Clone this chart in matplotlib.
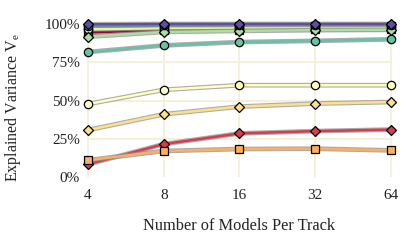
import matplotlib
matplotlib.use("Agg")
import matplotlib.pyplot as plt
import matplotlib.patheffects as pe
from matplotlib.ticker import FixedLocator, FixedFormatter, NullLocator

# -----------------------------
# DATA
# -----------------------------
models_per_track = [4, 8, 16, 32, 64]
x_labels = ["4", "8", "16", "32", "64"]
y_ticks = [0, 25, 50, 75, 100]
y_labels = ["0%", "25%", "50%", "75%", "100%"]

series_colors = ["#9e0142", "#d53e4f", "#f46d43", "#fdae61", "#fee08b", "#ffffbf",
                 "#e6f598", "#abdda4", "#66c2a5", "#3288bd", "#5e4fa2"]
series_markers = ["s", "D", "s", "s", "D", "o", "o", "D", "o", "o", "D"]

v_9e0142 = [94.5, 96.0, 96.3, 96.5, 96.5]
v_d53e4f = [8.3, 21.5, 28.5, 30.0, 31.0]
v_f46d43 = [97.5, 98.3, 98.6, 98.8, 98.8]
v_fdae61 = [11.0, 17.0, 18.3, 18.5, 17.4]
v_fee08b = [30.7, 41.0, 46.0, 48.0, 49.0]
v_ffffbf = [47.7, 57.0, 60.0, 60.0, 60.0]
v_e6f598 = [96.5, 97.3, 97.6, 97.8, 97.8]
v_abdda4 = [91.7, 94.8, 95.5, 96.0, 96.2]
v_66c2a5 = [81.7, 86.0, 88.2, 89.0, 90.0]
v_3288bd = [99.0, 99.3, 99.4, 99.5, 99.5]
v_5e4fa2 = [99.8, 100.0, 100.0, 100.0, 100.0]

series_values = [v_9e0142, v_d53e4f, v_f46d43, v_fdae61, v_fee08b, v_ffffbf,
                 v_e6f598, v_abdda4, v_66c2a5, v_3288bd, v_5e4fa2]

# -----------------------------
# PLOT
# -----------------------------
plt.rcParams["font.family"] = ["Liberation Serif", "DejaVu Serif"]
plt.rcParams["mathtext.fontset"] = "stix"

fig = plt.figure(figsize=(4.15, 2.48), dpi=100)
ax = fig.add_axes([0.1755, 0.2554, 0.803, 0.6786])

ax.set_xscale("log", base=2)
ax.set_xlim(2 ** 1.8, 2 ** 6.2)
ax.set_ylim(-5, 105)

grid_color = "#f4eed6"
ax.vlines(models_per_track, 0, 100, color=grid_color, lw=1.2, zorder=0)
ax.hlines([25, 50, 75], models_per_track[0], models_per_track[-1],
          color=grid_color, lw=1.2, zorder=0)

# lines with a grey outline, then markers on top without it
shadow = [pe.Stroke(linewidth=3.4, foreground="#909090", alpha=0.75), pe.Normal()]
for vals, col in zip(series_values, series_colors):
    ax.plot(models_per_track, vals, color=col, lw=1.8, path_effects=shadow, zorder=2)
for vals, col, mk in zip(series_values, series_colors, series_markers):
    ms = 5.2 if mk == "D" else 6
    ax.plot(models_per_track, vals, ls="none", marker=mk, ms=ms,
            mfc=col, mec="black", mew=0.9, zorder=3)

ax.xaxis.set_major_locator(FixedLocator(models_per_track))
ax.xaxis.set_major_formatter(FixedFormatter(x_labels))
ax.xaxis.set_minor_locator(NullLocator())
ax.set_yticks(y_ticks)
ax.set_yticklabels(y_labels)

for s in ax.spines.values():
    s.set_visible(False)
ax.tick_params(length=0, labelsize=11, colors="#222222")
ax.tick_params(axis="y", pad=-5)
ax.tick_params(axis="x", pad=3)

ax.set_xlabel("Number of Models Per Track", fontsize=11.8, labelpad=12, color="#222222")
ax.set_ylabel(r"Explained Variance V$_\mathregular{e}$", fontsize=11.5, color="#222222")
ax.yaxis.set_label_coords(-0.15, 0.46)

fig.savefig("out.png", dpi=100)
